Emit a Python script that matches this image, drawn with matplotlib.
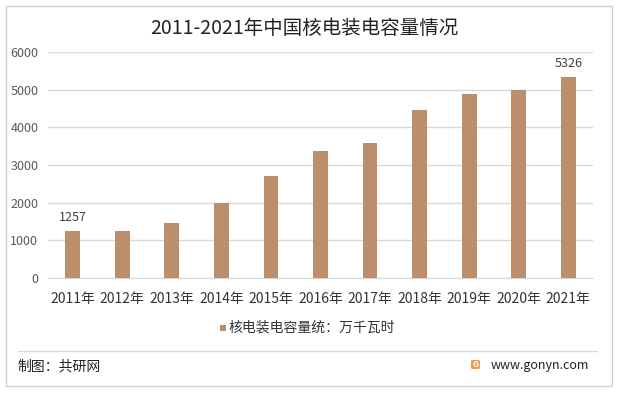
import matplotlib
matplotlib.use("Agg")
import matplotlib.pyplot as plt
from matplotlib.patches import Rectangle, FancyBboxPatch

plt.rcParams['font.family'] = ['Noto Sans CJK SC', 'DejaVu Sans']

years = ["2011年", "2012年", "2013年", "2014年", "2015年", "2016年",
         "2017年", "2018年", "2019年", "2020年", "2021年"]
capacity = [1257, 1257, 1466, 1990, 2717, 3364, 3582, 4466, 4874, 4989, 5326]
labelled = {0: "1257", 10: "5326"}
yticks = [0, 1000, 2000, 3000, 4000, 5000, 6000]

W, H = 618, 395
bar_color = "#BC8E6C"

fig = plt.figure(figsize=(W / 100, H / 100), dpi=100)
fig.patch.set_facecolor("white")


def fx(px):
    return px / W


def fy(py):
    return 1 - py / H


# outer frame
fig.add_artist(Rectangle((fx(6), fy(386)), fx(606), 380 / H, transform=fig.transFigure,
                         fill=False, edgecolor="#D0D0D0", linewidth=1))

ax = fig.add_axes([fx(48), fy(278), fx(593 - 48), (278 - 52) / H])
x = list(range(len(years)))
ax.bar(x, capacity, width=0.3, color=bar_color, zorder=3)
ax.set_xlim(-0.5, len(years) - 0.5)
ax.set_ylim(0, 6000)
ax.set_yticks(yticks)
ax.set_yticklabels([str(v) for v in yticks])
ax.set_xticks(x)
ax.set_xticklabels(years)
ax.tick_params(axis="y", length=0, pad=7, labelsize=9, labelcolor="#595959")
ax.tick_params(axis="x", length=0, pad=10, labelsize=10, labelcolor="#333333")
ax.grid(axis="y", color="#D9D9D9", linewidth=1, zorder=0)
for s in ["top", "right", "left"]:
    ax.spines[s].set_visible(False)
ax.spines["bottom"].set_color("#D9D9D9")

for i, txt in labelled.items():
    ax.annotate(txt, (i, capacity[i]), xytext=(0, 5), textcoords="offset points",
                ha="center", va="bottom", fontsize=9, color="#404040")

fig.text(fx(304), fy(28), "2011-2021年中国核电装电容量情况", ha="center", va="center",
         fontsize=14, color="#222222")

# legend
fig.add_artist(Rectangle((fx(220), fy(331)), fx(6), 6 / H, transform=fig.transFigure,
                         facecolor=bar_color, edgecolor="none"))
fig.text(fx(229), fy(328), "核电装电容量统：万千瓦时", ha="left", va="center",
         fontsize=10, color="#333333")

# footer
fig.add_artist(plt.Line2D([fx(18), fx(597)], [fy(351), fy(351)], transform=fig.transFigure,
                          color="#D9D9D9", linewidth=1))
fig.text(fx(17), fy(366), "制图：共研网", ha="left", va="center", fontsize=10, color="#222222")
fig.add_artist(FancyBboxPatch((fx(471), fy(369)), fx(9), 9 / H, transform=fig.transFigure,
                              boxstyle="round,pad=0,rounding_size=0.003",
                              facecolor="#F39A4A", edgecolor="none"))
fig.text(fx(475.5), fy(364.5), "G", ha="center", va="center", fontsize=6,
         color="white", fontweight="bold")
fig.text(fx(589), fy(365), "www.gonyn.com", ha="right", va="center", fontsize=9, color="#222222")

fig.savefig("out.png", dpi=100)
